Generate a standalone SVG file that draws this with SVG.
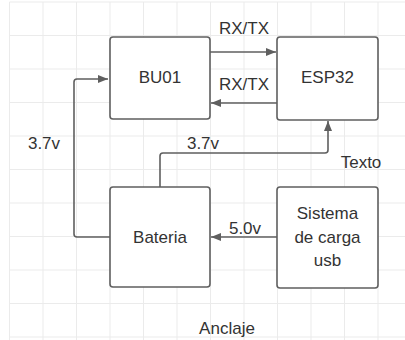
<svg xmlns="http://www.w3.org/2000/svg" width="405" height="340" viewBox="0 0 405 340">
<style>
.grid{stroke:#ebebeb;stroke-width:1;fill:none}
.box{fill:#ffffff;stroke:#5f5f5f;stroke-width:1.6}
.t{font-family:"Liberation Sans",Arial,sans-serif;font-size:17px;fill:#333333;text-anchor:middle}
.c{fill:none;stroke:#5f5f5f;stroke-width:1.6}
</style>
<defs>
<marker id="ah" markerWidth="10" markerHeight="8" refX="10" refY="4" orient="auto" markerUnits="userSpaceOnUse">
<path d="M0,0 L10,4 L0,8 Z" fill="#5f5f5f"/>
</marker>
</defs>
<rect width="405" height="340" fill="#ffffff"/>
<g id="grid" class="grid">
<path d="M9.5,2V340M43,2V340M76.5,2V340M110,2V340M143.5,2V340M177,2V340M210.5,2V340M244,2V340M277.5,2V340M311,2V340M344.5,2V340M378,2V340"/>
<path d="M9.5,2H405M9.5,35.5H405M9.5,69H405M9.5,102.5H405M9.5,136H405M9.5,169.5H405M9.5,203H405M9.5,236.5H405M9.5,270H405M9.5,303.5H405M9.5,337H405"/>
</g>
<g id="connectors">
<path class="c" d="M210,52H276" marker-end="url(#ah)"/>
<path class="c" d="M277,103H211" marker-end="url(#ah)"/>
<path class="c" d="M110,237H77Q74,237 74,234V82Q74,79 77,79H108" marker-end="url(#ah)"/>
<path class="c" d="M160,187V156Q160,153 163,153H325Q328,153 328,150V121" marker-end="url(#ah)"/>
<path class="c" d="M277,237H211" marker-end="url(#ah)"/>
<text class="t" x="244" y="34">RX/TX</text>
<text class="t" x="244" y="90">RX/TX</text>
<text class="t" x="44" y="149">3.7v</text>
<text class="t" x="203" y="149">3.7v</text>
<text class="t" x="245" y="234">5.0v</text>
</g>
<g id="BU01">
<rect class="box" x="110" y="37" width="100" height="82" rx="3"/>
<text class="t" x="160" y="83">BU01</text>
</g>
<g id="ESP32">
<rect class="box" x="277" y="37" width="101" height="83" rx="3"/>
<text class="t" x="327.5" y="83">ESP32</text>
</g>
<g id="Bateria">
<rect class="box" x="110" y="187" width="100" height="100" rx="3"/>
<text class="t" x="160" y="243">Bateria</text>
</g>
<g id="Sistema">
<rect class="box" x="277" y="187" width="101" height="101" rx="3"/>
<text class="t" x="327.5" y="219">Sistema</text>
<text class="t" x="327.5" y="243">de carga</text>
<text class="t" x="327.5" y="266">usb</text>
</g>
<g id="labels">
<text class="t" x="361" y="168">Texto</text>
<text class="t" x="227" y="334">Anclaje</text>
</g>
</svg>
